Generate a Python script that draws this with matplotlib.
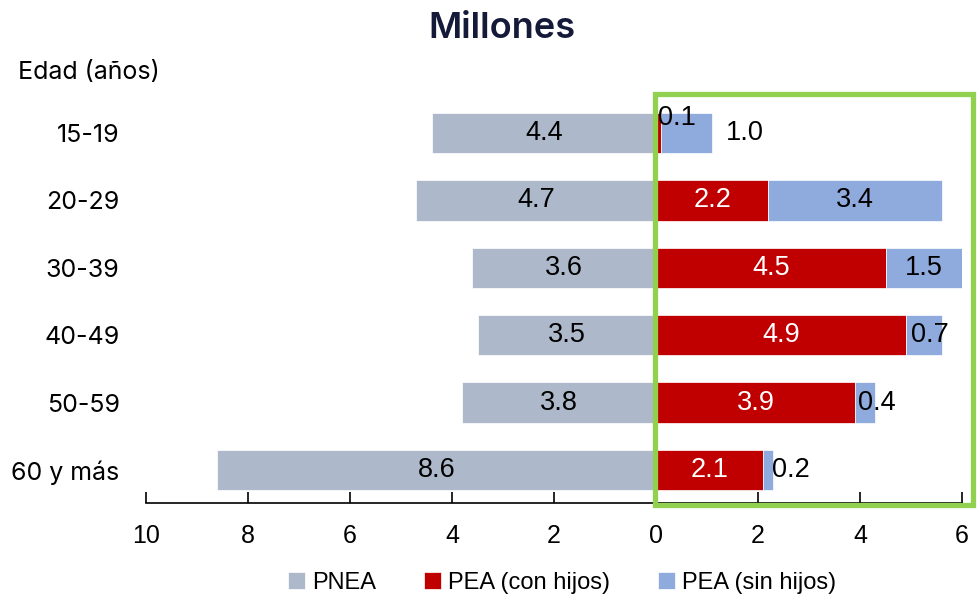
import matplotlib.pyplot as plt
from matplotlib.patches import Rectangle

# data (millones)
edades = ['15-19', '20-29', '30-39', '40-49', '50-59', '60 y más']
pnea = [4.4, 4.7, 3.6, 3.5, 3.8, 8.6]
pea_con_hijos = [0.1, 2.2, 4.5, 4.9, 3.9, 2.1]
pea_sin_hijos = [1.0, 3.4, 1.5, 0.7, 0.4, 0.2]
xticks = [-10, -8, -6, -4, -2, 0, 2, 4, 6]

# colours
c_pnea = '#ADB9CA'
c_con = '#C00000'
c_sin = '#8FAADC'
c_title = '#141a38'

# label nudges (x, y) for the small segments, in data units
nudge_con = [(0.36, -0.22), (0, 0), (0, 0), (0, 0), (0, 0), (0, 0)]
nudge_sin = [(1.15, 0), (0, 0), (0, 0), (0.12, 0), (0.23, 0), (0.45, 0)]

num_font = ['Liberation Sans', 'DejaVu Sans']
cat_font = ['Inter', 'DejaVu Sans']

W, H = 977, 598
fig = plt.figure(figsize=(W / 100, H / 100), dpi=100)
ax = fig.add_axes([146 / W, 1 - 503 / H, 816 / W, (503 - 92.6) / H])

y = list(range(len(edades)))
bh = 0.6
neg = [-v for v in pnea]
b1 = ax.barh(y, neg, height=bh, color=c_pnea, edgecolor='white', linewidth=0.5, label='PNEA')
b2 = ax.barh(y, pea_con_hijos, height=bh, color=c_con, edgecolor='white', linewidth=0.5,
             label='PEA (con hijos)')
b3 = ax.barh(y, pea_sin_hijos, left=pea_con_hijos, height=bh, color=c_sin, edgecolor='white',
             linewidth=0.5, label='PEA (sin hijos)')

fs = 19.5
for i in y:
    ax.text(-pnea[i] / 2, i, f'{pnea[i]:.1f}', ha='center', va='center',
            fontsize=fs, family=num_font, color='black')
    dx, dy = nudge_con[i]
    col = 'black' if pea_con_hijos[i] < 0.5 else 'white'
    ax.text(pea_con_hijos[i] / 2 + dx, i + dy, f'{pea_con_hijos[i]:.1f}', ha='center', va='center',
            fontsize=fs, family=num_font, color=col)
    dx, dy = nudge_sin[i]
    ax.text(pea_con_hijos[i] + pea_sin_hijos[i] / 2 + dx, i + dy, f'{pea_sin_hijos[i]:.1f}',
            ha='center', va='center', fontsize=fs, family=num_font, color='black')

ax.set_xlim(-10, 6)
ax.set_ylim(len(edades) - 0.51, -0.6)
ax.set_xticks(xticks)
ax.set_xticklabels([str(abs(t)) for t in xticks], fontsize=18, family=num_font)
ax.tick_params(axis='x', direction='in', length=8, width=1.2, pad=15, color='black')
ax.set_yticks(y)
ax.set_yticklabels(edades, fontsize=18, family=cat_font)
ax.tick_params(axis='y', length=0, pad=19)
for s in ['top', 'right', 'left']:
    ax.spines[s].set_visible(False)
ax.spines['bottom'].set_linewidth(1.2)

fig.text(502 / W, 1 - 28 / H, 'Millones', ha='center', va='center', fontsize=26,
         fontweight='semibold', family=cat_font, color=c_title)
fig.text(18 / W, 1 - 72 / H, 'Edad (años)', ha='left', va='center', fontsize=18,
         family=cat_font, color='black')

# green highlight box
fig.patches.append(Rectangle((655 / W, 1 - 505 / H), 318 / W, 411 / H, transform=fig.transFigure,
                             fill=False, edgecolor='#92D050', linewidth=3.8))

fig.legend(handles=[b1, b2, b3], loc='center', bbox_to_anchor=(562 / W, 1 - 583 / H), ncol=3,
           frameon=False, prop={'family': num_font, 'size': 17},
           handlelength=0.75, handleheight=0.75, handletextpad=0.3, columnspacing=2.0,
           borderpad=0)

fig.savefig('out.png', dpi=100)
